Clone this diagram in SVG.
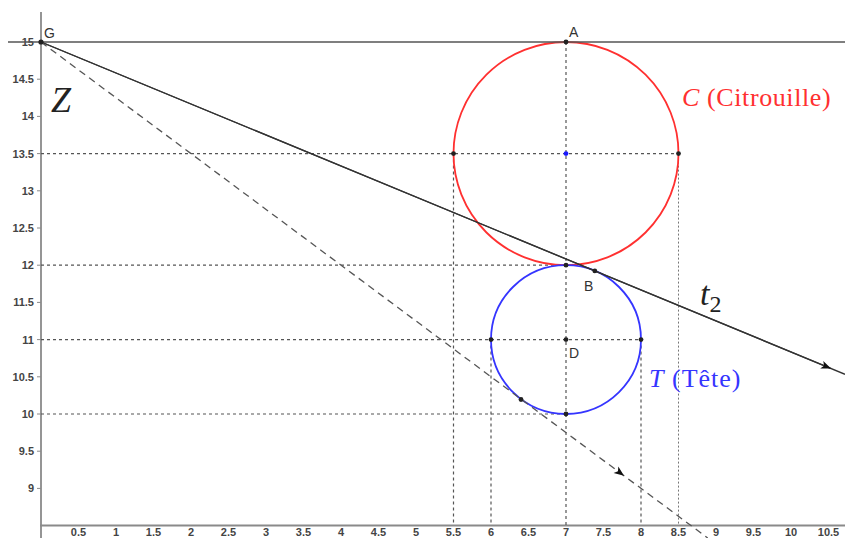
<svg xmlns="http://www.w3.org/2000/svg" width="845" height="538" viewBox="0 0 845 538">
<style>
.axis{stroke:#8a8a8a;stroke-width:1.8;fill:none}
.tick{stroke:#8a8a8a;stroke-width:1}
.num{font-family:"Liberation Sans",Arial,sans-serif;font-size:11px;font-weight:bold;fill:#444}
.ynum{text-anchor:end}
.xnum{text-anchor:middle}
.dash{stroke:#555;stroke-width:1.2;stroke-dasharray:3 3;fill:none}
.dot2{stroke:#777;stroke-width:1;stroke-dasharray:2 2;fill:none}
.pt{fill:#222}
.lbl{font-family:"Liberation Sans",Arial,sans-serif;font-size:14px;fill:#333}
.math{font-family:"Liberation Serif","Times New Roman",serif}
</style>
<defs>
<marker id="arr" viewBox="0 0 10 10" refX="10" refY="5" markerWidth="18" markerHeight="10" markerUnits="userSpaceOnUse" orient="auto">
<path d="M0,1 L10,5 L0,9 L2.5,5 z" fill="#111"/>
</marker>
</defs>
<rect width="845" height="538" fill="#fff"/>
<g id="axes">
<line class="axis" x1="41" y1="12" x2="41" y2="538"/>
<line class="axis" x1="40" y1="525.5" x2="845" y2="525.5"/>
<g class="ticks">
<line class="tick" x1="37" y1="79.2" x2="41" y2="79.2"/><line class="tick" x1="37" y1="116.4" x2="41" y2="116.4"/>
<line class="tick" x1="37" y1="153.6" x2="41" y2="153.6"/><line class="tick" x1="37" y1="190.8" x2="41" y2="190.8"/>
<line class="tick" x1="37" y1="228" x2="41" y2="228"/><line class="tick" x1="37" y1="265.2" x2="41" y2="265.2"/>
<line class="tick" x1="37" y1="302.4" x2="41" y2="302.4"/><line class="tick" x1="37" y1="339.6" x2="41" y2="339.6"/>
<line class="tick" x1="37" y1="376.8" x2="41" y2="376.8"/><line class="tick" x1="37" y1="414" x2="41" y2="414"/>
<line class="tick" x1="37" y1="451.2" x2="41" y2="451.2"/><line class="tick" x1="37" y1="488.4" x2="41" y2="488.4"/>
</g>
<g class="num ynum">
<text x="34" y="46">15</text><text x="34" y="83.2">14.5</text><text x="34" y="120.4">14</text>
<text x="34" y="157.6">13.5</text><text x="34" y="194.8">13</text><text x="34" y="232">12.5</text>
<text x="34" y="269.2">12</text><text x="34" y="306.4">11.5</text><text x="34" y="343.6">11</text>
<text x="34" y="380.8">10.5</text><text x="34" y="418">10</text><text x="34" y="455.2">9.5</text>
<text x="34" y="492.4">9</text>
</g>
<g class="num xnum">
<text x="78.5" y="536">0.5</text><text x="116" y="536">1</text><text x="153.5" y="536">1.5</text>
<text x="191" y="536">2</text><text x="228.5" y="536">2.5</text><text x="266" y="536">3</text>
<text x="303.5" y="536">3.5</text><text x="341" y="536">4</text><text x="378.5" y="536">4.5</text>
<text x="416" y="536">5</text><text x="453.5" y="536">5.5</text><text x="491" y="536">6</text>
<text x="528.5" y="536">6.5</text><text x="566" y="536">7</text><text x="603.5" y="536">7.5</text>
<text x="641" y="536">8</text><text x="678.5" y="536">8.5</text><text x="716" y="536">9</text>
<text x="753.5" y="536">9.5</text><text x="791" y="536">10</text><text x="828.5" y="536">10.5</text>
</g>
</g>
<g id="guides">
<line class="dash" x1="41" y1="153.6" x2="678.5" y2="153.6"/>
<line class="dash" x1="41" y1="265.2" x2="566" y2="265.2"/>
<line class="dash" x1="41" y1="339.6" x2="641" y2="339.6"/>
<line class="dash" x1="41" y1="414" x2="566" y2="414"/>
<line class="dash" x1="566" y1="42" x2="566" y2="525"/>
<line class="dash" x1="453.5" y1="153.6" x2="453.5" y2="525"/>
<line class="dash" x1="491" y1="339.6" x2="491" y2="525"/>
<line class="dash" x1="641" y1="339.6" x2="641" y2="525"/>
<line class="dot2" x1="678.5" y1="153.6" x2="678.5" y2="525"/>
</g>
<g id="circle-C">
<ellipse cx="566" cy="153.6" rx="112.5" ry="111.6" fill="none" stroke="#ff3030" stroke-width="1.8"/>
<text class="math" x="682" y="106" font-size="26" letter-spacing="0.6" fill="#ff3030"><tspan font-style="italic">C</tspan> (Citrouille)</text>
</g>
<g id="circle-T">
<ellipse cx="566" cy="339.6" rx="75" ry="74.4" fill="none" stroke="#3535ff" stroke-width="1.8"/>
<text class="math" x="649" y="387" font-size="26" letter-spacing="1" fill="#3535ff"><tspan font-style="italic">T</tspan> (Tête)</text>
</g>
<g id="connectors">
<line x1="8" y1="42" x2="845" y2="42" stroke="#555" stroke-width="1.6"/>
<line x1="41" y1="42" x2="845" y2="374.3" stroke="#333" stroke-width="1.3"/>
<line x1="41" y1="42" x2="831" y2="368.5" stroke="#333" stroke-width="1.3" marker-end="url(#arr)"/>
<line x1="41" y1="42" x2="707.7" y2="538" stroke="#555" stroke-width="1.3" stroke-dasharray="7 5"/>
<line x1="600" y1="458" x2="624" y2="475.7" stroke="none" marker-end="url(#arr)"/>
</g>
<g id="labels">
<text class="math" x="51" y="112" font-size="36" font-style="italic" fill="#222">Z</text>
<text class="math" x="700" y="305" font-size="34" fill="#222"><tspan font-style="italic">t</tspan><tspan font-size="24" dy="7">2</tspan></text>
</g>
<g id="points">
<g id="G"><circle class="pt" cx="41" cy="42" r="2.6"/><text class="lbl" x="44" y="38">G</text></g>
<g id="A"><circle class="pt" cx="566" cy="42" r="2.4"/><text class="lbl" x="569" y="37">A</text></g>
<g id="B"><circle class="pt" cx="594.8" cy="270.9" r="2.4"/><text class="lbl" x="584" y="291">B</text></g>
<g id="D"><circle class="pt" cx="566" cy="339.6" r="2.4"/><text class="lbl" x="569" y="358">D</text></g>
<circle cx="566" cy="153.6" r="2.4" fill="#1a1aff"/>
<circle class="pt" cx="453.5" cy="153.6" r="2.4"/>
<circle class="pt" cx="678.5" cy="153.6" r="2.4"/>
<circle class="pt" cx="566" cy="265.2" r="2.4"/>
<circle class="pt" cx="491" cy="339.6" r="2.4"/>
<circle class="pt" cx="641" cy="339.6" r="2.4"/>
<circle class="pt" cx="566" cy="414" r="2.4"/>
<circle class="pt" cx="521" cy="399.5" r="2.4"/>
</g>
</svg>
